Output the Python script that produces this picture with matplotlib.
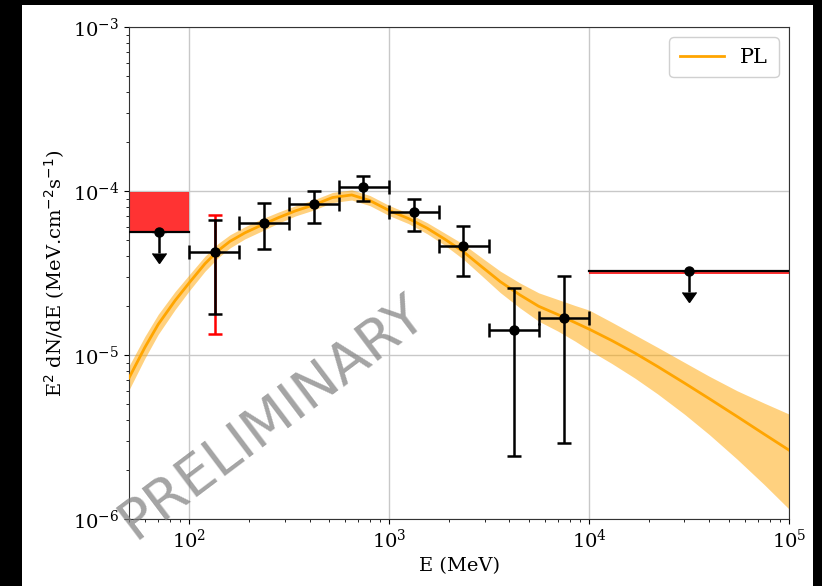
import matplotlib
matplotlib.use("Agg")
import matplotlib.pyplot as plt
from matplotlib.patches import Rectangle
import numpy as np

# ---------------- data ----------------
bin_lo = [100, 178, 316, 562, 1000, 1778, 3162, 5623]
bin_hi = [178, 316, 562, 1000, 1778, 3162, 5623, 10000]
e_pts = [134, 237, 419, 744, 1330, 2355, 4190, 7450]
flux = [4.23e-5, 6.4e-5, 8.29e-5, 1.054e-4, 7.41e-5, 4.62e-5, 1.415e-5, 1.675e-5]
flux_hi = [6.7e-5, 8.49e-5, 1.0e-4, 1.23e-4, 9.0e-5, 6.12e-5, 2.57e-5, 3.03e-5]
flux_lo = [1.79e-5, 4.41e-5, 6.36e-5, 8.73e-5, 5.7e-5, 3.03e-5, 2.42e-6, 2.9e-6]
red_e = [134]
red_flux = [4.23e-5]
red_hi = [7.14e-5]
red_lo = [1.34e-5]

ul_e = [70.7, 31623]
ul_lo = [50, 10000]
ul_hi = [100, 100000]
ul_val = [5.6e-5, 3.25e-5]
ul_red_top = [9.8e-5, 3.22e-5]
ul_red_bot = [5.6e-5, 3.10e-5]

# model curve (log10 of E^2 dN/dE)
model_e = [50, 60, 70, 85, 100, 120, 140, 160, 190, 230, 280, 340, 420, 520, 650,
           800, 1000, 1250, 1550, 1900, 2350, 2900, 3600, 4500, 5600, 7000, 8500,
           10000, 13000, 17000, 22000, 30000, 40000, 55000, 75000, 100000]
model_log_c = [-5.140, -4.954, -4.813, -4.668, -4.560, -4.443, -4.362, -4.307, -4.255,
               -4.208, -4.162, -4.121, -4.085, -4.040, -4.024, -4.058, -4.119, -4.168,
               -4.227, -4.294, -4.370, -4.461, -4.553, -4.633, -4.703, -4.754, -4.802,
               -4.842, -4.912, -4.989, -5.070, -5.171, -5.267, -5.375, -5.482, -5.580]
model_log_up = [-5.067, -4.887, -4.752, -4.613, -4.511, -4.397, -4.319, -4.267, -4.218,
                -4.171, -4.128, -4.090, -4.054, -4.009, -3.993, -4.027, -4.088, -4.137,
                -4.193, -4.257, -4.324, -4.406, -4.489, -4.560, -4.621, -4.662, -4.698,
                -4.726, -4.800, -4.878, -4.953, -5.045, -5.130, -5.218, -5.293, -5.360]
model_log_dn = [-5.213, -5.021, -4.874, -4.723, -4.609, -4.489, -4.405, -4.347, -4.292,
                -4.245, -4.196, -4.152, -4.116, -4.071, -4.055, -4.089, -4.150, -4.199,
                -4.261, -4.331, -4.416, -4.516, -4.620, -4.712, -4.794, -4.855, -4.915,
                -4.970, -5.052, -5.142, -5.237, -5.361, -5.486, -5.635, -5.789, -5.939]

# ---------------- figure ----------------
plt.rcParams['font.family'] = ['DejaVu Serif']
plt.rcParams['mathtext.fontset'] = 'dejavusans'

W, H = 822, 586
fig = plt.figure(figsize=(W / 100, H / 100), dpi=100)
fig.patch.set_facecolor('black')
fig.add_artist(Rectangle((22 / W, 0), (813 - 22) / W, 581 / H,
                         transform=fig.transFigure, facecolor='white',
                         edgecolor='none', zorder=-10))

ax = fig.add_axes([129 / W, 1 - 519 / H, (789 - 129) / W, (519 - 27) / H])
ax.set_xscale('log')
ax.set_yscale('log')
ax.set_xlim(50, 1e5)
ax.set_ylim(1e-6, 1e-3)
ax.grid(True, which='major', color='#c8c8c8', lw=1.0)
ax.set_axisbelow(True)
for sp in ax.spines.values():
    sp.set_color('#333333')

# model
mc = 10 ** np.array(model_log_c)
mu = 10 ** np.array(model_log_up)
md = 10 ** np.array(model_log_dn)
ax.fill_between(model_e, md, mu, color='orange', alpha=0.5, lw=0, zorder=2)
ax.plot(model_e, mc, color='orange', lw=2, label='PL', zorder=3)

# upper limit boxes
for lo, hi, top, bot in zip(ul_lo, ul_hi, ul_red_top, ul_red_bot):
    ax.fill_between([lo, hi], [bot, bot], [top, top], color='red', alpha=0.8, lw=0, zorder=2.5)
for lo, hi, v in zip(ul_lo, ul_hi, ul_val):
    ax.plot([lo, hi], [v, v], color='black', lw=1.6, zorder=4)
ul_arr = np.array(ul_val)
ax.errorbar(ul_e, ul_val, yerr=0.25 * ul_arr, uplims=True, fmt='o', color='black',
            ms=6.5, elinewidth=1.8, capsize=5, zorder=5)

# red error bar
rf = np.array(red_flux)
ax.errorbar(red_e, red_flux, yerr=[rf - np.array(red_lo), np.array(red_hi) - rf],
            fmt='none', ecolor='red', elinewidth=1.8, capsize=5, capthick=1.8, zorder=4)

# data points
fx = np.array(flux)
ex = np.array(e_pts)
ax.errorbar(e_pts, flux,
            xerr=[ex - np.array(bin_lo), np.array(bin_hi) - ex],
            yerr=[fx - np.array(flux_lo), np.array(flux_hi) - fx],
            fmt='o', color='black', ms=6.5, elinewidth=1.8, capsize=5, capthick=1.8, zorder=5)

ax.tick_params(labelsize=14)
ax.set_xlabel('E (MeV)', fontsize=14)
ax.set_ylabel(r'E$^2$ dN/dE (MeV.cm$^{-2}$s$^{-1}$)', fontsize=14)

leg = ax.legend(loc='upper right', fontsize=15, framealpha=1, edgecolor='#d0d0d0',
                handlelength=2.1, borderpad=0.5)

fig.text(272 / W, 1 - 417 / H, 'PRELIMINARY', fontsize=40, color='gray', alpha=0.72,
         rotation=37, ha='center', va='center', family='DejaVu Sans', zorder=20)

fig.savefig('out.png', dpi=100, facecolor=fig.get_facecolor())
